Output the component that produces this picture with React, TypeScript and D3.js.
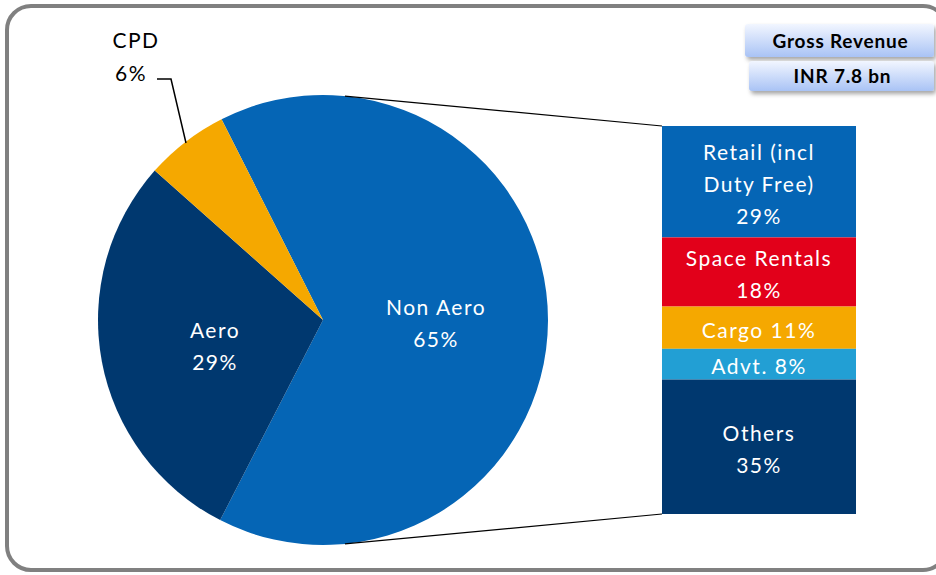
import React, { useEffect, useRef } from 'react'
import * as d3 from 'd3'

const pieLabels = ['Non Aero', 'Aero', 'CPD']
const pieValues = [65, 29, 6]
const pieColors = ['#0565b5', '#00386f', '#f5a800']

const barLabels = [['Retail (incl', 'Duty Free)', '29%'], ['Space Rentals', '18%'], ['Cargo 11%'], ['Advt. 8%'], ['Others', '35%']]
const barValues = [29, 18, 11, 8, 35]
const barColors = ['#0565b5', '#e2001a', '#f5a800', '#229fd4', '#00386f']

const headerLines = ['Gross Revenue', 'INR 7.8 bn']

const W = 936
const H = 575
const FONT = 'Lato, "Open Sans", sans-serif'
const SPACING = 1.5

export default function App() {
  const ref = useRef<SVGSVGElement>(null)

  useEffect(() => {
    const svg = d3.select(ref.current)
    svg.selectAll('*').remove()

    const defs = svg.append('defs')
    const grad = defs.append('linearGradient').attr('id', 'hdr').attr('x1', 0).attr('y1', 0).attr('x2', 0).attr('y2', 1)
    grad.append('stop').attr('offset', '0%').attr('stop-color', '#f2f6ff')
    grad.append('stop').attr('offset', '100%').attr('stop-color', '#a9c3f5')
    const flt = defs.append('filter').attr('id', 'shd').attr('x', '-10%').attr('y', '-20%').attr('width', '130%').attr('height', '160%')
    flt.append('feDropShadow').attr('dx', 2).attr('dy', 3).attr('stdDeviation', 2).attr('flood-color', '#000').attr('flood-opacity', 0.35)

    // outer frame
    svg.append('rect')
      .attr('x', 7).attr('y', 6).attr('width', 940).attr('height', 564)
      .attr('rx', 24).attr('ry', 24)
      .attr('fill', '#fff').attr('stroke', '#808080').attr('stroke-width', 4)

    // pie
    const cx = 323, cy = 320, r = 225
    const start = -26.8 * Math.PI / 180
    const pie = d3.pie<number>().sort(null).startAngle(start).endAngle(start + 2 * Math.PI)
    const arcs = pie(pieValues)
    const arc = d3.arc<d3.PieArcDatum<number>>().innerRadius(0).outerRadius(r)
    const pg = svg.append('g').attr('transform', `translate(${cx},${cy})`)
    pg.selectAll('path').data(arcs).enter().append('path')
      .attr('d', arc)
      .attr('fill', (d, i) => pieColors[i])

    const pieTxt = [[113, 1], [-108, 24]]
    arcs.slice(0, 2).forEach((d, i) => {
      const [tx, ty] = pieTxt[i]
      const t = pg.append('text').attr('text-anchor', 'middle')
        .attr('font-family', FONT).attr('font-size', 21).attr('fill', '#fff')
        .attr('letter-spacing', SPACING)
      t.append('tspan').attr('x', tx).attr('y', ty - 6).text(pieLabels[i])
      t.append('tspan').attr('x', tx).attr('y', ty + 26).text(pieValues[i] + '%')
    })

    // CPD label with leader
    svg.append('path')
      .attr('d', `M186,143 L171,79 L157,79`)
      .attr('fill', 'none').attr('stroke', '#000').attr('stroke-width', 1.5)
    const ct = svg.append('text').attr('text-anchor', 'middle')
      .attr('font-family', FONT).attr('font-size', 21).attr('fill', '#000')
      .attr('letter-spacing', SPACING)
    ct.append('tspan').attr('x', 136).attr('y', 48).text(pieLabels[2])
    ct.append('tspan').attr('x', 131).attr('y', 81).text(pieValues[2] + '%')

    // bar of pie
    const bx = 662, bw = 194
    const total = d3.sum(barValues)
    const y = d3.scaleLinear().domain([0, total]).range([126, 514])
    const cum = d3.cumsum(barValues)
    const bg = svg.append('g')
    barValues.forEach((v, i) => {
      const y0 = y(cum[i] - v), y1 = y(cum[i])
      bg.append('rect').attr('x', bx).attr('y', y0).attr('width', bw).attr('height', y1 - y0).attr('fill', barColors[i])
      const lines = barLabels[i]
      const lh = 32
      const midY = (y0 + y1) / 2
      const t = bg.append('text').attr('text-anchor', 'middle')
        .attr('font-family', FONT).attr('font-size', 21).attr('fill', '#fff')
        .attr('letter-spacing', SPACING)
      lines.forEach((s, j) => {
        t.append('tspan').attr('x', bx + bw / 2)
          .attr('y', midY + (j - (lines.length - 1) / 2) * lh + 10)
          .text(s)
      })
    })

    // connectors
    const ca = 5.6 * Math.PI / 180
    const px = cx + Math.sin(ca) * r
    svg.append('line').attr('x1', px).attr('y1', cy - Math.cos(ca) * r).attr('x2', bx).attr('y2', y(0))
      .attr('stroke', '#000').attr('stroke-width', 1.2)
    svg.append('line').attr('x1', px).attr('y1', cy + Math.cos(ca) * r).attr('x2', bx).attr('y2', y(total))
      .attr('stroke', '#000').attr('stroke-width', 1.2)

    // header boxes
    const boxes = [[745, 24, 189, 33], [749, 61, 185, 30]]
    headerLines.forEach((s, i) => {
      const [x0, y0, w, h] = boxes[i]
      svg.append('rect').attr('x', x0).attr('y', y0).attr('width', w).attr('height', h)
        .attr('rx', 3).attr('fill', 'url(#hdr)').attr('filter', 'url(#shd)')
      svg.append('text').attr('x', x0 + w / 2 + 1).attr('y', y0 + h / 2 + 7)
        .attr('text-anchor', 'middle').attr('font-family', FONT).attr('font-weight', 'bold')
        .attr('font-size', 19).attr('letter-spacing', 0.8).attr('fill', '#000').text(s)
    })
  }, [])

  return (
    <svg ref={ref} width={W} height={H} style={{ position: 'absolute', left: 0, top: 0, background: '#fff' }} />
  )
}
